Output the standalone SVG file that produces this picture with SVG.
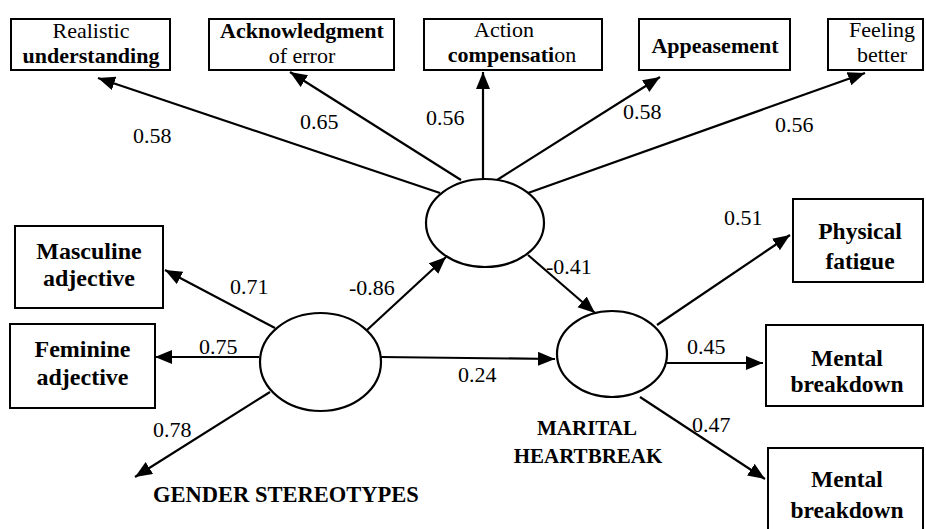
<svg xmlns="http://www.w3.org/2000/svg" width="926" height="529" viewBox="0 0 926 529">
<style>
.box{fill:#fff;stroke:#000;stroke-width:2}
.lat{fill:#fff;stroke:#000;stroke-width:2.2}
.t{font-family:'Liberation Serif','Times New Roman',serif;fill:#000;text-anchor:middle}
.top{font-size:22px}
.side{font-size:24px;font-weight:bold}
.rt{font-size:23.5px;font-weight:bold}
.b{font-weight:bold}
.num{font-family:'Liberation Serif','Times New Roman',serif;font-size:22px;fill:#000}
.lab{font-family:'Liberation Serif','Times New Roman',serif;font-weight:bold;fill:#000}
.c line{stroke:#000;stroke-width:2.2;marker-end:url(#ah)}
</style>
<defs>
<marker id="ah" markerUnits="userSpaceOnUse" markerWidth="18" markerHeight="16" refX="17" refY="7" orient="auto">
<path d="M0,0 L17,7 L0,14 z" fill="#000"/>
</marker>
<clipPath id="clipFat"><rect x="793" y="199" width="131" height="71"/></clipPath>
</defs>
<rect width="926" height="529" fill="#fff"/>

<g id="connectors" class="c">
<line x1="440" y1="193" x2="98" y2="78"/>
<line x1="461" y1="180" x2="290" y2="72"/>
<line x1="483" y1="179" x2="483" y2="72"/>
<line x1="497" y1="180" x2="660" y2="77"/>
<line x1="528" y1="193" x2="865" y2="73"/>
<line x1="367" y1="330" x2="446" y2="257"/>
<line x1="381" y1="357" x2="555" y2="359"/>
<line x1="528" y1="255" x2="595" y2="313"/>
<line x1="657" y1="325" x2="790" y2="235"/>
<line x1="667" y1="363" x2="763" y2="363"/>
<line x1="640" y1="397" x2="765" y2="479"/>
<line x1="275" y1="328" x2="165" y2="270"/>
<line x1="259" y1="357" x2="155" y2="357"/>
<line x1="270" y1="392" x2="135" y2="477"/>
</g>

<g id="realistic">
<rect class="box" x="11" y="19" width="159" height="51"/>
<text class="t top" x="91" y="38">Realistic</text>
<text class="t top b" x="91" y="63">understanding</text>
</g>
<g id="acknowledgment">
<rect class="box" x="209" y="19" width="185" height="51"/>
<text class="t top b" x="302" y="38">Acknowledgment</text>
<text class="t top" x="302" y="63">of error</text>
</g>
<g id="action">
<rect class="box" x="424" y="19" width="178" height="51"/>
<text class="t top" x="504" y="37">Action</text>
<text class="t top" x="512" y="62"><tspan class="b">compensati</tspan>on</text>
</g>
<g id="appeasement">
<rect class="box" x="639" y="19" width="151" height="51"/>
<text class="t top b" x="715" y="53" font-size="23">Appeasement</text>
</g>
<g id="feeling">
<rect class="box" x="828" y="19" width="95" height="51"/>
<text class="t top" x="882" y="37">Feeling</text>
<text class="t top" x="882" y="62">better</text>
</g>

<g id="latent-top">
<ellipse class="lat" cx="485" cy="223" rx="59" ry="44"/>
</g>
<g id="gender">
<ellipse class="lat" cx="320.5" cy="362" rx="60.5" ry="49"/>
<text class="lab" x="153" y="502" font-size="22.5">GENDER STEREOTYPES</text>
</g>
<g id="marital">
<ellipse class="lat" cx="612" cy="354" rx="55" ry="43"/>
<text class="lab" x="587" y="435" font-size="21" text-anchor="middle">MARITAL</text>
<text class="lab" x="588" y="463" font-size="21" text-anchor="middle">HEARTBREAK</text>
</g>

<g id="masculine">
<rect class="box" x="15" y="226" width="148" height="82"/>
<text class="t side" x="89" y="259">Masculine</text>
<text class="t side" x="89" y="286">adjective</text>
</g>
<g id="feminine">
<rect class="box" x="10" y="324" width="145" height="84"/>
<text class="t side" x="82.5" y="357">Feminine</text>
<text class="t side" x="82.5" y="385">adjective</text>
</g>

<g id="physical">
<rect class="box" x="793" y="199" width="130" height="83"/>
<text class="t rt" x="860" y="239">Physical</text>
<text class="t rt" x="860" y="269" clip-path="url(#clipFat)">fatigue</text>
</g>
<g id="mental1">
<rect class="box" x="766" y="325" width="157" height="81"/>
<text class="t rt" x="847" y="366">Mental</text>
<text class="t rt" x="847" y="392">breakdown</text>
</g>
<g id="mental2">
<rect class="box" x="768" y="448" width="155" height="90"/>
<text class="t rt" x="847" y="487">Mental</text>
<text class="t rt" x="847" y="518">breakdown</text>
</g>

<g id="labels">
<text class="num" x="133" y="143">0.58</text>
<text class="num" x="300" y="129">0.65</text>
<text class="num" x="426" y="125">0.56</text>
<text class="num" x="623" y="119">0.58</text>
<text class="num" x="775" y="132">0.56</text>
<text class="num" x="724" y="225">0.51</text>
<text class="num" x="546" y="274">-0.41</text>
<text class="num" x="349" y="295">-0.86</text>
<text class="num" x="230" y="294">0.71</text>
<text class="num" x="199" y="354">0.75</text>
<text class="num" x="153" y="437">0.78</text>
<text class="num" x="458" y="382">0.24</text>
<text class="num" x="687" y="354">0.45</text>
<text class="num" x="692" y="432">0.47</text>
</g>
</svg>
